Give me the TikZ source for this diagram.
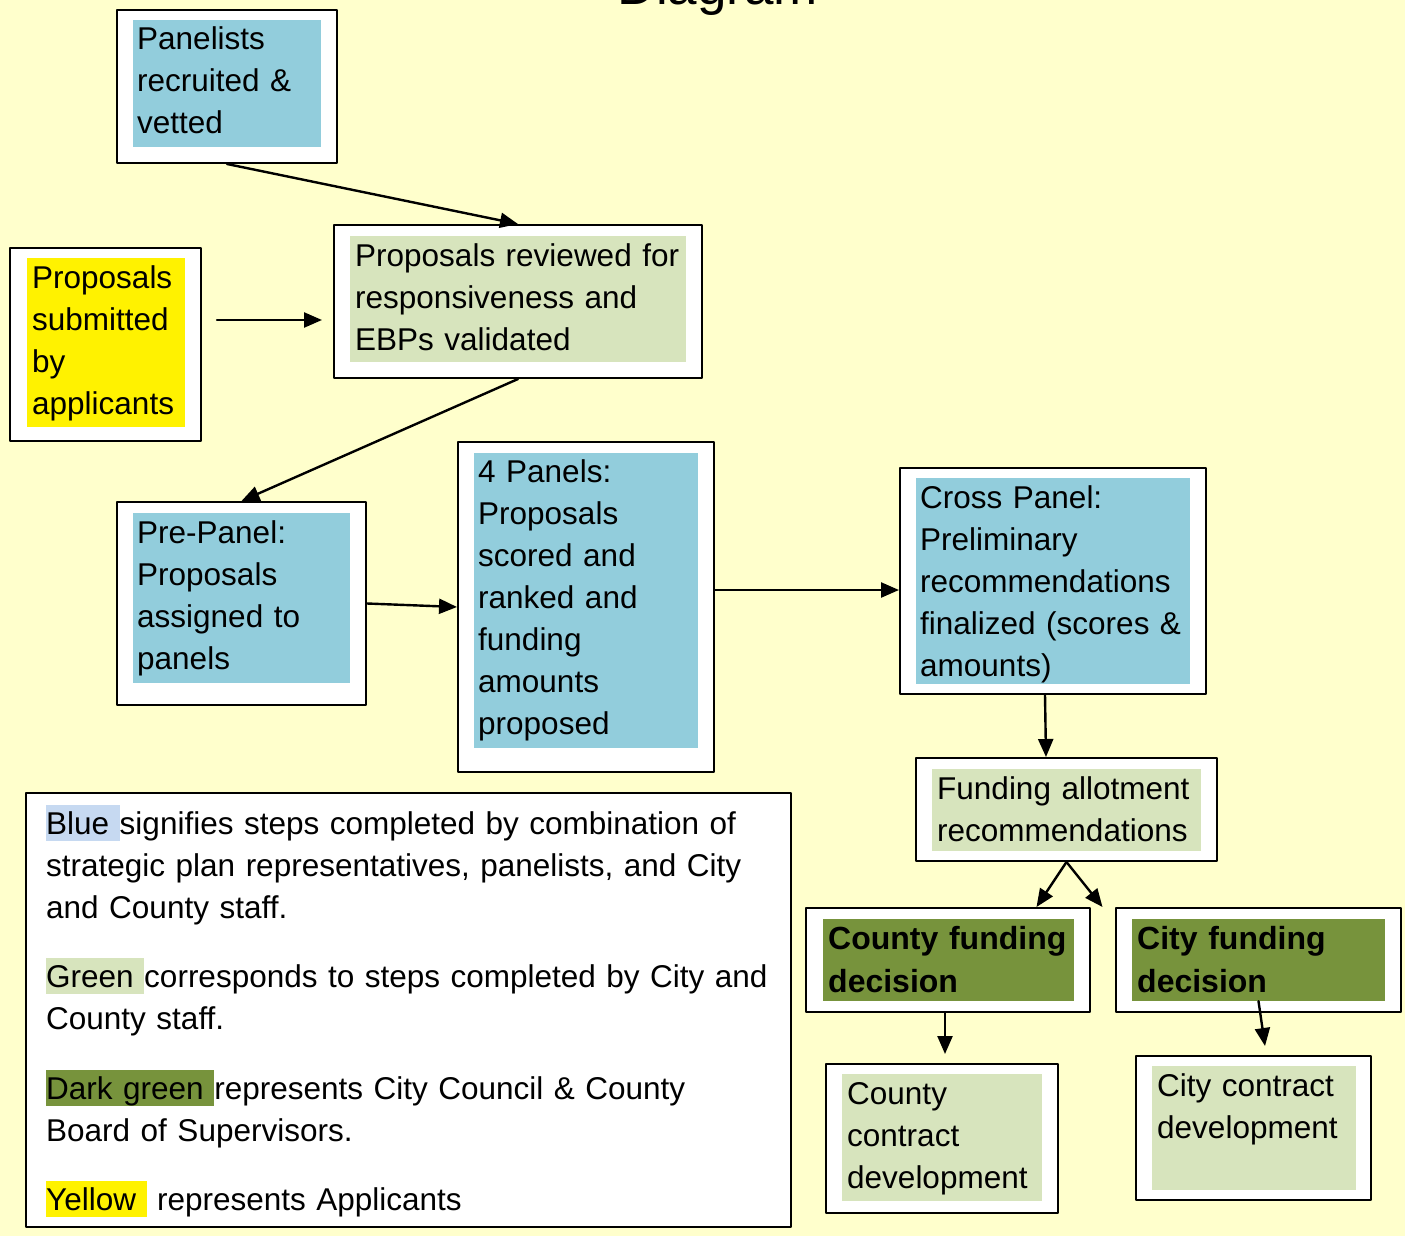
\documentclass[tikz,border=0pt]{standalone}
\usepackage{fontspec}
\setmainfont{Liberation Sans}
\usetikzlibrary{arrows.meta}

\definecolor{bgyellow}{HTML}{FFFFCC}
\definecolor{stepblue}{HTML}{92CDDC}
\definecolor{stepgreen}{HTML}{D7E4BD}
\definecolor{darkgreen}{HTML}{77933C}
\definecolor{hlblue}{HTML}{C6D9F1}

\newcommand{\hilite}[2]{{\setlength{\fboxsep}{0pt}\colorbox{#1}{\rule[-6.5pt]{0pt}{36pt}#2}}}

\tikzset{
  outbox/.style={draw=black, line width=2pt, fill=white, inner sep=0pt},
  colbox/.style={inner sep=0pt, draw=none},
  txt/.style={anchor=base west, align=left, inner sep=0pt, text width=420pt,
    font=\fontsize{31.5}{42}\selectfont},
  boldtxt/.style={txt, font=\fontsize{32}{43}\selectfont\bfseries},
  arr/.style={-{Triangle[length=18pt,width=15pt]}, line width=2.4pt}
}

\begin{document}
\begin{tikzpicture}[x=1pt, y=-1pt, line cap=round, line join=round]
  \useasboundingbox (0,0) rectangle (1405,1236);
  \clip (0,0) rectangle (1405,1236);
  \fill[bgyellow] (0,0) rectangle (1405,1236);
  \node[anchor=base, inner sep=0pt, font=\fontsize{53}{60}\selectfont] (title) at (718,5) {Diagram};

  % boxes
  \node[outbox, minimum width=220pt, minimum height=153pt] (pan) at (227,86.5) {};
  \node[colbox, fill=stepblue, minimum width=188pt, minimum height=127pt] (panin) at (227,83.5) {};
  \node[txt] (pantxt) at (137,50) {Panelists\\recruited \&\\vetted};

  \node[outbox, minimum width=191pt, minimum height=193pt] (sub) at (105.5,344.5) {};
  \node[colbox, fill=yellow, minimum width=158pt, minimum height=169pt] (subin) at (106,342.5) {};
  \node[txt] (subtxt) at (32,288) {Proposals\\submitted\\by\\applicants};

  \node[outbox, minimum width=368pt, minimum height=153pt] (rev) at (518,301.5) {};
  \node[colbox, fill=stepgreen, minimum width=336pt, minimum height=126pt] (revin) at (518,299) {};
  \node[txt] (revtxt) at (355,266) {Proposals reviewed for\\responsiveness and\\EBPs validated};

  \node[outbox, minimum width=249pt, minimum height=203pt] (pre) at (241.5,603.5) {};
  \node[colbox, fill=stepblue, minimum width=217pt, minimum height=170pt] (prein) at (241.5,598) {};
  \node[txt] (pretxt) at (137,543) {Pre-Panel:\\Proposals\\assigned to\\panels};

  \node[outbox, minimum width=256pt, minimum height=330pt] (four) at (586,607) {};
  \node[colbox, fill=stepblue, minimum width=224pt, minimum height=295pt] (fourin) at (586,600.5) {};
  \node[txt] (fourtxt) at (478,482) {4 Panels:\\Proposals\\scored and\\ranked and\\funding\\amounts\\proposed};

  \node[outbox, minimum width=306pt, minimum height=226pt] (cross) at (1053,581) {};
  \node[colbox, fill=stepblue, minimum width=274pt, minimum height=206pt] (crossin) at (1053,581) {};
  \node[txt] (crosstxt) at (920,508) {Cross Panel:\\Preliminary\\recommendations\\finalized (scores \&\\amounts)};

  \node[outbox, minimum width=301pt, minimum height=103pt] (fund) at (1066.5,809.5) {};
  \node[colbox, fill=stepgreen, minimum width=269pt, minimum height=82pt] (fundin) at (1066.5,810) {};
  \node[txt] (fundtxt) at (937,799) {Funding allotment\\recommendations};

  \node[outbox, minimum width=284pt, minimum height=104pt] (cdec) at (948,960) {};
  \node[colbox, fill=darkgreen, minimum width=251pt, minimum height=82pt] (cdecin) at (948.5,960) {};
  \node[boldtxt] (cdectxt) at (828,949) {County funding\\decision};

  \node[outbox, minimum width=285pt, minimum height=104pt] (ydec) at (1258.5,960) {};
  \node[colbox, fill=darkgreen, minimum width=253pt, minimum height=82pt] (ydecin) at (1258.5,960) {};
  \node[boldtxt] (ydectxt) at (1137,949) {City funding\\decision};

  \node[outbox, minimum width=232pt, minimum height=149pt] (ccon) at (942,1138.5) {};
  \node[colbox, fill=stepgreen, minimum width=200pt, minimum height=127pt] (cconin) at (942,1137.5) {};
  \node[txt] (ccontxt) at (847,1104) {County\\contract\\development};

  \node[outbox, minimum width=235pt, minimum height=144pt] (ycon) at (1253.5,1128) {};
  \node[colbox, fill=stepgreen, minimum width=204pt, minimum height=124pt] (yconin) at (1254,1128) {};
  \node[txt] (ycontxt) at (1157,1096) {City contract\\development};

  % legend
  \node[outbox, minimum width=765pt, minimum height=434pt] (legend) at (408.5,1010) {};
  \node[txt, text width=740pt] (leg1) at (46,834) {\hilite{hlblue}{Blue }signifies steps completed by combination of\\strategic plan representatives, panelists, and City\\and County staff.};
  \node[txt, text width=740pt] (leg2) at (46,987) {\hilite{stepgreen}{Green }corresponds to steps completed by City and\\County staff.};
  \node[txt, text width=740pt] (leg3) at (46,1099) {\hilite{darkgreen}{Dark green }represents City Council \& County\\Board of Supervisors.};
  \node[txt, text width=740pt] (leg4) at (46,1210) {\hilite{yellow}{Yellow }\ represents Applicants};

  % arrows
  \draw[arr] (pan.south) -- (rev.north);
  \coordinate (subrow) at (0,320);
  \draw[arr, shorten <=15pt, shorten >=11pt] (sub.east |- subrow) -- (rev.west |- subrow);
  \draw[arr] (rev.south) -- (pre.north);
  \draw[arr] (pre.east) -- (four.west);
  \draw[arr] ([yshift=17pt]four.east) -- ([yshift=-9pt]cross.west);
  \draw[arr] ([xshift=-8pt]cross.south) -- ([xshift=-20.5pt]fund.north);
  \draw[arr] (fund.south) -- ([xshift=-30pt]fund.south |- cdec.north);
  \draw[arr] (fund.south) -- ([xshift=36pt]fund.south |- ydec.north);
  \draw[arr] ([xshift=-3pt]cdec.south) -- ([xshift=3pt,yshift=9pt]ccon.north);
  \draw[arr] (ydecin.south) -- ([xshift=11.5pt,yshift=9pt]ycon.north);
\end{tikzpicture}
\end{document}
